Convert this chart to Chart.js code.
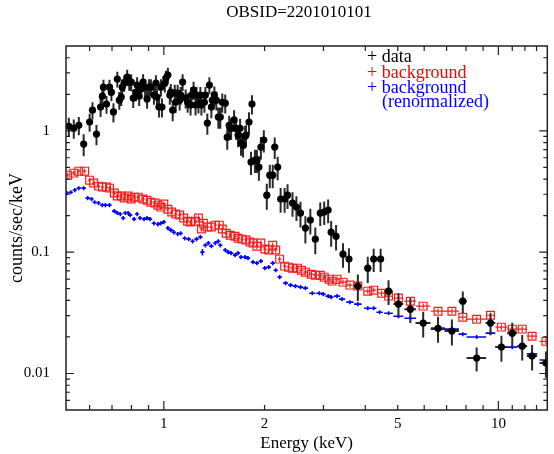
<!DOCTYPE html>
<html>
<head>
<meta charset="utf-8">
<script src="https://cdn.jsdelivr.net/npm/chart.js@4.4.1/dist/chart.umd.min.js"></script>
<style>
  body { margin: 0; background: #fff; }
  canvas { display: block; }
</style>
</head>
<body>
<canvas id="chart" width="554" height="454"></canvas>
<script>
// source spectrum (keV, counts/sec/keV)
var dataEnergy = [0.520,0.538,0.557,0.576,0.600,0.612,0.629,0.647,0.655,0.660,0.674,0.688,0.697,0.707,0.726,0.736,0.746,0.751,0.761,0.777,
  0.788,0.799,0.810,0.826,0.832,0.844,0.855,0.867,0.879,0.891,0.903,0.915,0.934,0.947,0.954,0.967,0.980,0.987,1.007,1.014,
  1.028,1.042,1.049,1.063,1.078,1.085,1.100,1.115,1.123,1.138,1.162,1.178,1.202,1.210,1.227,1.244,1.252,1.269,1.286,1.295,
  1.322,1.331,1.349,1.368,1.387,1.396,1.416,1.435,1.455,1.475,1.495,1.526,1.547,1.568,1.589,1.622,1.645,1.667,1.690,1.701,
  1.725,1.749,1.760,1.797,1.822,1.834,1.872,1.898,1.924,1.950,1.990,2.031,2.073,2.116,2.145,2.189,2.234,2.296,2.343,2.424,
  2.491,2.561,2.649,2.741,2.836,2.934,3.015,3.098,3.163,3.272,3.432,3.575,3.801,4.069,4.239,4.446,4.695,5.026,5.455,5.959,
  6.600,7.261,7.826,8.609,9.470,10.21,11.00,11.78,12.61,13.87];
var dataRate = [1.09,1.05,1.11,0.777,1.18,1.48,0.939,1.57,1.93,2.29,1.66,2.29,2.08,1.43,2.67,1.79,1.90,2.29,2.47,2.77,
  2.52,2.52,1.86,2.08,2.38,1.93,2.21,2.52,2.29,1.83,2.29,2.29,1.97,2.47,1.90,1.57,2.29,1.57,2.47,2.72,
  2.88,1.97,2.08,1.48,2.05,1.72,2.05,1.79,1.97,2.52,1.86,1.72,1.63,1.97,2.17,1.63,1.97,1.69,1.97,1.63,
  1.72,1.97,1.16,2.38,1.57,1.79,1.97,1.79,1.30,1.30,1.72,1.69,0.887,1.11,1.05,1.23,1.05,0.921,1.05,0.792,
  0.762,0.904,0.921,1.18,0.552,1.66,0.574,0.574,0.502,0.734,0.838,0.295,0.431,0.431,0.734,0.502,0.274,0.274,0.295,0.254,
  0.235,0.210,0.158,0.184,0.128,0.210,0.214,0.222,0.146,0.135,0.0963,0.0876,0.0525,0.0738,0.0876,0.0876,0.0477,0.0373,0.0339,0.0260,
  0.0236,0.0224,0.0394,0.0134,0.0260,0.0165,0.0215,0.0168,0.0139,0.0122];
var dataEnergyErr = [0.005,0.005,0.005,0.005,0.005,0.005,0.005,0.006,0.006,0.006,0.006,0.006,0.006,0.006,0.007,0.007,0.007,0.007,0.007,0.007,
  0.007,0.007,0.008,0.008,0.008,0.008,0.008,0.008,0.008,0.008,0.008,0.009,0.009,0.009,0.009,0.009,0.009,0.009,0.010,0.010,
  0.010,0.010,0.010,0.010,0.010,0.010,0.010,0.011,0.011,0.011,0.011,0.011,0.012,0.012,0.012,0.012,0.012,0.012,0.013,0.013,
  0.013,0.013,0.013,0.013,0.014,0.014,0.014,0.014,0.014,0.015,0.015,0.015,0.015,0.016,0.016,0.016,0.016,0.017,0.017,0.017,
  0.017,0.017,0.017,0.018,0.018,0.018,0.019,0.019,0.019,0.020,0.020,0.020,0.021,0.021,0.021,0.022,0.030,0.030,0.030,0.035,
  0.035,0.040,0.040,0.040,0.045,0.040,0.040,0.040,0.040,0.060,0.070,0.070,0.100,0.100,0.080,0.100,0.140,0.170,0.220,0.300,
  0.320,0.360,0.220,0.580,0.320,0.420,0.380,0.400,0.450,0.600];
var dataRateErr = [0.19,0.19,0.19,0.16,0.20,0.24,0.18,0.27,0.31,0.34,0.28,0.34,0.33,0.26,0.40,0.30,0.30,0.37,0.37,0.42,
  0.38,0.40,0.32,0.33,0.38,0.33,0.35,0.40,0.37,0.31,0.37,0.37,0.33,0.40,0.32,0.28,0.37,0.28,0.40,0.41,
  0.43,0.33,0.35,0.28,0.35,0.31,0.35,0.32,0.33,0.40,0.33,0.31,0.29,0.33,0.37,0.29,0.33,0.30,0.33,0.29,
  0.31,0.33,0.23,0.38,0.30,0.32,0.35,0.32,0.26,0.26,0.31,0.30,0.19,0.22,0.21,0.25,0.21,0.19,0.21,0.17,
  0.16,0.19,0.19,0.24,0.12,0.30,0.125,0.125,0.115,0.155,0.175,0.071,0.095,0.095,0.147,0.11,0.063,0.063,0.068,0.058,
  0.054,0.050,0.040,0.044,0.032,0.046,0.047,0.049,0.035,0.032,0.022,0.020,0.013,0.018,0.019,0.019,0.011,0.0086,0.0078,0.0062,
  0.0057,0.0054,0.0079,0.0030,0.0052,0.0040,0.0047,0.0040,0.0033,0.0030];

// background spectrum
var bkgEnergy = [0.516,0.538,0.557,0.580,0.600,0.617,0.638,0.655,0.674,0.688,0.711,0.726,0.746,0.761,0.782,0.799,0.815,0.838,0.867,0.891,
  0.915,0.941,0.960,0.980,1.000,1.028,1.056,1.085,1.115,1.146,1.178,1.202,1.244,1.269,1.295,1.313,1.349,1.387,1.425,1.465,
  1.495,1.536,1.579,1.633,1.667,1.713,1.760,1.809,1.847,1.898,1.950,2.004,2.059,2.116,2.160,2.219,2.296,2.359,2.424,2.509,
  2.578,2.649,2.760,2.836,2.934,3.015,3.120,3.184,3.294,3.432,3.599,3.801,4.069,4.239,4.476,4.695,5.026,5.455,5.959,6.600,
  7.261,7.826,8.609,9.470,10.21,11.00,11.78,12.61,13.87];
var bkgRate = [0.431,0.448,0.465,0.465,0.392,0.371,0.350,0.344,0.344,0.337,0.307,0.290,0.290,0.279,0.290,0.274,0.284,0.284,0.274,0.268,
  0.258,0.254,0.244,0.235,0.249,0.226,0.214,0.206,0.202,0.191,0.180,0.177,0.180,0.191,0.155,0.173,0.161,0.161,0.167,0.167,
  0.155,0.143,0.138,0.135,0.130,0.128,0.126,0.121,0.119,0.112,0.119,0.106,0.104,0.114,0.104,0.0876,0.0767,0.0752,0.0738,0.0738,
  0.0710,0.0684,0.0658,0.0646,0.0646,0.0622,0.0599,0.0577,0.0599,0.0566,0.0535,0.0525,0.0477,0.0486,0.0459,0.0434,0.0418,0.0394,0.0359,0.0326,
  0.0326,0.0291,0.0280,0.0302,0.0241,0.0232,0.0232,0.0203,0.0184];
var bkgEnergyErr = [0.005,0.006,0.006,0.007,0.007,0.007,0.007,0.007,0.007,0.007,0.008,0.008,0.008,0.008,0.009,0.009,0.009,0.009,0.010,0.010,
  0.010,0.010,0.010,0.010,0.011,0.011,0.012,0.012,0.013,0.013,0.013,0.013,0.014,0.014,0.014,0.014,0.015,0.016,0.016,0.016,
  0.017,0.018,0.018,0.019,0.019,0.020,0.020,0.021,0.021,0.022,0.022,0.023,0.024,0.024,0.025,0.026,0.030,0.030,0.035,0.040,
  0.040,0.040,0.045,0.045,0.050,0.050,0.050,0.050,0.060,0.070,0.070,0.100,0.100,0.080,0.100,0.140,0.170,0.220,0.300,0.320,
  0.360,0.220,0.580,0.320,0.420,0.380,0.400,0.450,0.600];
var bkgRateErr = [0.020,0.020,0.021,0.021,0.018,0.017,0.016,0.016,0.016,0.016,0.015,0.014,0.014,0.014,0.014,0.013,0.014,0.014,0.013,0.013,
  0.013,0.012,0.012,0.012,0.012,0.011,0.011,0.010,0.010,0.010,0.009,0.009,0.009,0.010,0.008,0.009,0.008,0.008,0.008,0.008,
  0.008,0.007,0.007,0.007,0.007,0.006,0.006,0.006,0.006,0.006,0.006,0.005,0.005,0.006,0.005,0.0045,0.004,0.004,0.004,0.004,
  0.0035,0.0035,0.0033,0.0033,0.0033,0.0031,0.003,0.003,0.003,0.0028,0.0027,0.0026,0.0024,0.0024,0.0023,0.0022,0.0021,0.002,0.0018,0.0017,
  0.0017,0.0016,0.0015,0.0016,0.0013,0.0013,0.0013,0.0012,0.0011];

// background rescaled to the source region
var normEnergy = [0.513,0.527,0.542,0.557,0.576,0.592,0.608,0.621,0.638,0.655,0.669,0.688,0.711,0.726,0.741,0.756,0.767,0.782,0.793,0.815,
  0.832,0.849,0.873,0.891,0.909,0.934,0.960,0.980,1.000,1.028,1.049,1.071,1.100,1.123,1.154,1.186,1.219,1.252,1.286,1.304,
  1.331,1.359,1.387,1.425,1.455,1.475,1.526,1.557,1.589,1.633,1.667,1.701,1.749,1.785,1.847,1.898,1.950,2.004,2.059,2.116,
  2.160,2.219,2.312,2.392,2.474,2.561,2.649,2.778,2.914,2.995,3.098,3.163,3.294,3.409,3.599,3.801,4.069,4.239,4.416,4.695,
  5.026,5.455,5.959,6.600,7.261,7.826,8.609,9.470,10.21,11.00,11.78,12.61,13.87];
var normRate = [0.307,0.312,0.325,0.337,0.337,0.279,0.274,0.258,0.254,0.244,0.244,0.244,0.218,0.210,0.206,0.191,0.210,0.210,0.202,0.187,
  0.206,0.191,0.187,0.191,0.187,0.173,0.170,0.173,0.177,0.158,0.152,0.146,0.141,0.143,0.130,0.128,0.123,0.128,0.133,0.100,
  0.114,0.119,0.112,0.119,0.123,0.114,0.104,0.100,0.0982,0.0945,0.0982,0.0910,0.0910,0.0893,0.0827,0.0812,0.0843,0.0738,0.0752,0.0812,
  0.0710,0.0622,0.0555,0.0535,0.0525,0.0515,0.0505,0.0459,0.0459,0.0451,0.0434,0.0426,0.0434,0.0410,0.0387,0.0373,0.0345,0.0345,0.0320,0.0314,
  0.0296,0.0285,0.0260,0.0232,0.0232,0.0211,0.0200,0.0215,0.0165,0.0165,0.0168,0.0145,0.0129];
var normEnergyErr = [0.008,0.008,0.008,0.008,0.009,0.009,0.009,0.009,0.009,0.010,0.010,0.010,0.011,0.011,0.011,0.011,0.011,0.012,0.012,0.012,
  0.012,0.013,0.013,0.013,0.014,0.014,0.014,0.015,0.015,0.015,0.016,0.016,0.016,0.017,0.017,0.018,0.018,0.019,0.019,0.019,
  0.020,0.020,0.021,0.021,0.022,0.022,0.023,0.023,0.024,0.024,0.025,0.025,0.026,0.027,0.028,0.028,0.029,0.030,0.031,0.032,
  0.032,0.033,0.040,0.040,0.045,0.045,0.050,0.060,0.060,0.050,0.060,0.050,0.070,0.070,0.090,0.100,0.100,0.080,0.100,0.140,
  0.170,0.220,0.300,0.320,0.360,0.220,0.580,0.320,0.420,0.380,0.400,0.450,0.600];
var normRateErr = [0.012,0.012,0.013,0.013,0.013,0.011,0.011,0.010,0.010,0.010,0.010,0.010,0.009,0.008,0.008,0.008,0.008,0.008,0.008,0.0075,
  0.008,0.0075,0.0075,0.0075,0.0075,0.007,0.007,0.007,0.007,0.0063,0.006,0.006,0.0056,0.0057,0.0052,0.0051,0.005,0.0051,0.0053,0.006,
  0.0046,0.0048,0.0045,0.0048,0.005,0.0046,0.0042,0.004,0.0039,0.0038,0.0039,0.0036,0.0036,0.0036,0.0033,0.0032,0.0034,0.003,0.003,0.0032,
  0.0028,0.0025,0.0022,0.0021,0.0021,0.0021,0.002,0.0018,0.0018,0.0018,0.0017,0.0017,0.0017,0.0016,0.0015,0.0015,0.0013,0.0013,0.0012,0.0012,
  0.0011,0.0011,0.0010,0.0009,0.0009,0.0008,0.0008,0.0008,0.0007,0.0007,0.0007,0.0006,0.0006];

// axis ticks
var xLabelTicks = [1, 2, 5, 10];
var xMajorTicks = [1, 10];
var xMinorTicks = [0.6, 0.7, 0.8, 0.9, 2, 3, 4, 5, 6, 7, 8, 9, 11, 12, 13];
var yLabelTicks = [0.01, 0.1, 1];
var yMinorTicks = [0.006, 0.007, 0.008, 0.009, 0.02, 0.03, 0.04, 0.05, 0.06, 0.07, 0.08, 0.09,
  0.2, 0.3, 0.4, 0.5, 0.6, 0.7, 0.8, 0.9, 2, 3, 4];

function points(xs, ys) {
  return xs.map(function (x, i) { return { x: x, y: ys[i] }; });
}

// error bars are drawn just before each dataset's markers
var errorBars = {
  id: 'errorBars',
  beforeDatasetDraw: function (chart, args) {
    var ds = chart.data.datasets[args.index];
    if (!ds.xErr) return;
    var xs = chart.scales.x, ys = chart.scales.y, ctx = chart.ctx, a = chart.chartArea;
    ctx.save();
    ctx.beginPath();
    ctx.rect(a.left, a.top, a.right - a.left, a.bottom - a.top);
    ctx.clip();
    ctx.strokeStyle = ds.barColor;
    ctx.lineWidth = ds.barWidth;
    ctx.beginPath();
    ds.data.forEach(function (p, i) {
      var px = xs.getPixelForValue(p.x), py = ys.getPixelForValue(p.y);
      ctx.moveTo(xs.getPixelForValue(p.x - ds.xErr[i]), py);
      ctx.lineTo(xs.getPixelForValue(p.x + ds.xErr[i]), py);
      ctx.moveTo(px, ys.getPixelForValue(p.y - ds.yErr[i]));
      ctx.lineTo(px, ys.getPixelForValue(p.y + ds.yErr[i]));
    });
    ctx.stroke();
    ctx.restore();
  }
};

// frame with inward ticks on all four sides, title and legend text
var frame = {
  id: 'frame',
  afterDraw: function (chart) {
    var ctx = chart.ctx, a = chart.chartArea, xs = chart.scales.x, ys = chart.scales.y;
    ctx.save();
    ctx.strokeStyle = '#222';
    ctx.lineWidth = 1.5;
    ctx.strokeRect(a.left, a.top, a.right - a.left, a.bottom - a.top);
    ctx.lineWidth = 1.2;
    ctx.beginPath();
    function xTick(v, len) {
      var p = xs.getPixelForValue(v);
      ctx.moveTo(p, a.bottom); ctx.lineTo(p, a.bottom - len);
      ctx.moveTo(p, a.top); ctx.lineTo(p, a.top + len);
    }
    function yTick(v, len) {
      var p = ys.getPixelForValue(v);
      ctx.moveTo(a.left, p); ctx.lineTo(a.left + len, p);
      ctx.moveTo(a.right, p); ctx.lineTo(a.right - len, p);
    }
    xMajorTicks.forEach(function (v) { xTick(v, 9); });
    xMinorTicks.forEach(function (v) { xTick(v, 5); });
    yLabelTicks.forEach(function (v) { yTick(v, 8); });
    yMinorTicks.forEach(function (v) { yTick(v, 4); });
    ctx.stroke();

    ctx.fillStyle = '#000';
    ctx.textBaseline = 'middle';
    ctx.textAlign = 'center';
    ctx.font = '17px "Liberation Serif", serif';
    ctx.fillText('OBSID=2201010101', 299, 13);

    ctx.textAlign = 'left';
    ctx.textBaseline = 'alphabetic';
    ctx.font = '18px "Liberation Serif", serif';
    ctx.fillStyle = '#000';
    ctx.fillText('+ data', 367, 62);
    ctx.fillStyle = '#ff0000';
    ctx.fillText('+ background', 367, 78);
    ctx.fillStyle = '#0000ff';
    ctx.fillText('+ background', 367, 93);
    ctx.fillText('(renormalized)', 382, 107);
    ctx.restore();
  }
};

var serif = '"Liberation Serif", serif';
Chart.defaults.color = '#000';

var ctx = document.getElementById('chart').getContext('2d');
var chart = new Chart(ctx, {
  type: 'scatter',
  data: {
    datasets: [{
      label: 'data',
      data: points(dataEnergy, dataRate),
      xErr: dataEnergyErr, yErr: dataRateErr,
      barColor: '#2a2a2a', barWidth: 2,
      pointStyle: 'circle', pointRadius: 3.6,
      backgroundColor: '#000', borderWidth: 0
    }, {
      label: 'background',
      data: points(bkgEnergy, bkgRate),
      xErr: bkgEnergyErr, yErr: bkgRateErr,
      barColor: '#ff2020', barWidth: 1.2,
      pointStyle: 'rect', pointRadius: 5.5,
      backgroundColor: 'rgba(255,255,255,0)', borderColor: '#ff1a1a', borderWidth: 1.2
    }, {
      label: 'background (renormalized)',
      data: points(normEnergy, normRate),
      xErr: normEnergyErr, yErr: normRateErr,
      barColor: '#0000ff', barWidth: 1.6,
      pointRadius: 0
    }]
  },
  options: {
    responsive: false,
    animation: false,
    events: [],
    devicePixelRatio: 1,
    layout: { padding: { top: 46, right: 2, bottom: 0, left: 0 } },
    plugins: { legend: { display: false }, tooltip: { enabled: false } },
    scales: {
      x: {
        type: 'logarithmic',
        position: 'bottom',
        min: 0.51, max: 14,
        grid: { display: false, drawTicks: false },
        border: { display: false },
        afterBuildTicks: function (s) { s.ticks = xLabelTicks.map(function (v) { return { value: v }; }); },
        afterFit: function (s) { s.height = 44; },
        ticks: {
          autoSkip: false, maxRotation: 0, padding: 5,
          font: { family: serif, size: 15 },
          callback: function (v) { return String(v); }
        },
        title: { display: true, text: 'Energy (keV)', font: { family: serif, size: 17 }, padding: { top: 0, bottom: 0 } }
      },
      y: {
        type: 'logarithmic',
        position: 'left',
        min: 0.005, max: 5,
        grid: { display: false, drawTicks: false },
        border: { display: false },
        afterBuildTicks: function (s) { s.ticks = yLabelTicks.map(function (v) { return { value: v }; }); },
        afterFit: function (s) { s.width = 66; },
        ticks: {
          autoSkip: false, padding: 16,
          font: { family: serif, size: 15 },
          callback: function (v) { return String(v); }
        },
        title: { display: true, text: 'counts/sec/keV', font: { family: serif, size: 18 }, padding: { top: 6, bottom: 0 } }
      }
    }
  },
  plugins: [errorBars, frame]
});
</script>
</body>
</html>
